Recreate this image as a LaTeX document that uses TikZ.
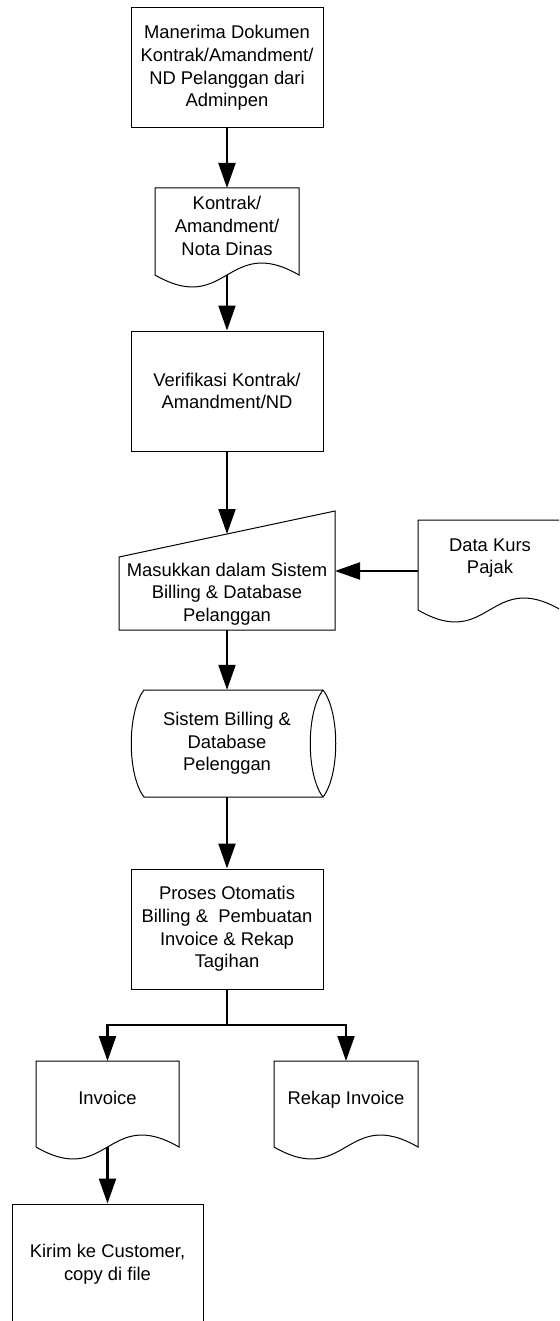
\documentclass[tikz,border=0pt]{standalone}
\usepackage{fontspec}
\setmainfont{Liberation Sans}
\usetikzlibrary{arrows.meta}
\tikzset{
  shp/.style={draw=black, line width=1pt},
  txt/.style={align=center, font=\fontsize{18.4}{22.7}\selectfont, inner sep=0pt},
  boxnode/.style={shp, txt, minimum width=192pt, minimum height=120pt},
  flow/.style={line width=2.2pt, -{Triangle[length=25pt,width=17pt]}},
  plainflow/.style={line width=2.2pt},
}
% document shape: #1 left x, #2 top y, #3 width, #4 side height
\newcommand\docpath[4]{%
  \draw[shp] (#1,#2+#4) -- (#1,#2) -- (#1+#3,#2) -- (#1+#3,#2+#4)
    .. controls (#1+0.5*#3,#2+#4-41.5) and (#1+0.5*#3,#2+#4+41.5) .. (#1,#2+#4) -- cycle;}
\begin{document}
\begin{tikzpicture}[x=1pt,y=-1pt]
\useasboundingbox (0,0) rectangle (559,1321);
\clip (0,0) rectangle (559,1321);

% box 1
\node[boxnode] (b1) at (227,68) {Manerima Dokumen\\Kontrak/Amandment/\\ND Pelanggan dari\\Adminpen};

% document 1
\docpath{155}{188}{144}{87}
\coordinate (d1top) at (227,188);
\coordinate (d1bot) at (227,275);
\node[txt] (d1) at (227,226) {Kontrak/\\Amandment/\\Nota Dinas};

% box 2
\node[boxnode] (b2) at (227,391) {Verifikasi Kontrak/\\Amandment/ND};

% manual input
\draw[shp] (119,557) -- (335,511) -- (335,630) -- (119,630) -- cycle;
\coordinate (mtop) at (227,534);
\coordinate (mright) at (335,571);
\coordinate (mbot) at (227,630);
\node[txt] (m) at (227,594) {Masukkan dalam Sistem\\Billing \& Database\\Pelanggan};

% data kurs document
\docpath{418}{520}{143}{90}
\coordinate (dkleft) at (418,571);
\node[txt] (dk) at (490,558) {Data Kurs\\Pajak};

% stored data
\draw[shp] (144,690) -- (323,690) .. controls (340,712) and (340,775) .. (323,797)
  -- (144,797) .. controls (127,775) and (127,712) .. (144,690) -- cycle;
\draw[shp] (323,690) .. controls (306,712) and (306,775) .. (323,797);
\node[txt, minimum width=192pt, minimum height=107pt] (cyl) at (227,743.5) {Sistem Billing \&\\Database\\Pelenggan};

% proses
\node[boxnode] (p) at (227,929) {Proses Otomatis\\Billing \&\ \ Pembuatan\\Invoice \& Rekap\\Tagihan};
\coordinate (br) at (227,1025);

% invoice documents
\docpath{36}{1061}{143}{86}
\coordinate (invtop) at (107.5,1061);
\coordinate (invbot) at (107.5,1147);
\node[txt, anchor=base] (inv) at (107.5,1104.5) {Invoice};

\docpath{274}{1061}{144}{86}
\coordinate (rektop) at (346,1061);
\node[txt, anchor=base] (rek) at (346,1104.5) {Rekap Invoice};

% kirim
\node[shp, txt, minimum width=191pt, minimum height=120pt] (k) at (107.5,1264) {Kirim ke Customer,\\copy di file};

% connectors
\draw[flow] (b1.south) -- (d1top);
\draw[flow] (d1bot) -- (b2.north);
\draw[flow] (b2.south) -- (mtop);
\draw[flow] (dkleft) -- (mright);
\draw[flow] (mbot) -- (cyl.north);
\draw[flow] (cyl.south) -- (p.north);
\draw[plainflow] (p.south) -- (br);
\draw[flow] (br) -| (invtop);
\draw[flow] (br) -| (rektop);
\draw[flow] (invbot) -- (k.north);
\end{tikzpicture}
\end{document}
